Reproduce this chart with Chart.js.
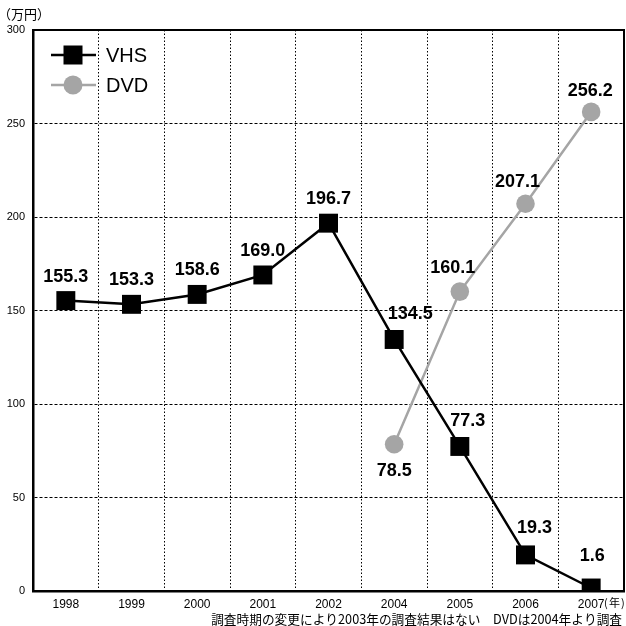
<!DOCTYPE html>
<html>
<head>
<meta charset="utf-8">
<script src="https://cdn.jsdelivr.net/npm/chart.js@4/dist/chart.umd.min.js"></script>
<style>
  html, body { margin: 0; padding: 0; background: #fff; overflow: hidden; }
  #wrap { position: relative; width: 626px; height: 626px; }
  canvas { display: block; }
</style>
</head>
<body>
<div id="wrap"><canvas id="c" width="626" height="626"></canvas></div>
<script>
// Years surveyed (no survey in 2003)
const years = ['1998', '1999', '2000', '2001', '2002', '2004', '2005', '2006', '2007'];
// Values in 万円
const vhs = [155.3, 153.3, 158.6, 169.0, 196.7, 134.5, 77.3, 19.3, 1.6];
const dvd = [null, null, null, null, null, 78.5, 160.1, 207.1, 256.2];
const yTicks = [0, 50, 100, 150, 200, 250, 300];

// Label placement relative to each point (dx, dy in px)
const vhsLabelShift = [[0, -24], [0, -24], [0, -24], [0, -24], [0, -24], [16, -25], [8, -25], [9, -27], [1, -32]];
const dvdLabelShift = [null, null, null, null, null, [0, 27], [-7, -24], [-8, -22], [-1, -21]];

const GRAY = '#a5a5a5';
const FONT = '"Liberation Sans", Arial, Helvetica, sans-serif';
const JP = '"Noto Sans CJK JP", "Liberation Sans", sans-serif';

const decorations = {
  id: 'decorations',
  afterDraw(chart) {
    const { ctx, chartArea: a } = chart;
    ctx.save();
    // top and right frame
    ctx.strokeStyle = '#000';
    ctx.lineWidth = 2;
    ctx.beginPath();
    ctx.moveTo(a.left, a.top);
    ctx.lineTo(a.right, a.top);
    ctx.lineTo(a.right, a.bottom);
    ctx.stroke();

    // value labels
    ctx.fillStyle = '#000';
    ctx.font = 'bold 18px ' + FONT;
    ctx.textAlign = 'center';
    ctx.textBaseline = 'middle';
    const drawLabels = (dsIndex, values, shifts) => {
      const meta = chart.getDatasetMeta(dsIndex);
      values.forEach((v, i) => {
        if (v === null) return;
        const p = meta.data[i];
        const s = shifts[i];
        ctx.fillText(v.toFixed(1), p.x + s[0], p.y + s[1]);
      });
    };
    drawLabels(0, vhs, vhsLabelShift);
    drawLabels(1, dvd, dvdLabelShift);

    // legend
    const lx0 = a.left + 18, lx1 = a.left + 63, mx = a.left + 40;
    const ly1 = a.top + 25, ly2 = a.top + 55;
    ctx.lineWidth = 2.5;
    ctx.strokeStyle = '#000';
    ctx.beginPath(); ctx.moveTo(lx0, ly1); ctx.lineTo(lx1, ly1); ctx.stroke();
    ctx.fillStyle = '#000';
    ctx.fillRect(mx - 9.5, ly1 - 9.5, 19, 19);
    ctx.strokeStyle = GRAY;
    ctx.beginPath(); ctx.moveTo(lx0, ly2); ctx.lineTo(lx1, ly2); ctx.stroke();
    ctx.fillStyle = GRAY;
    ctx.beginPath(); ctx.arc(mx, ly2, 9.5, 0, Math.PI * 2); ctx.fill();
    ctx.fillStyle = '#000';
    ctx.font = '20px ' + FONT;
    ctx.textAlign = 'left';
    ctx.fillText('VHS', a.left + 73, ly1 + 1);
    ctx.fillText('DVD', a.left + 73, ly2 + 1);

    // unit captions and note
    ctx.font = '13px ' + JP;
    ctx.textBaseline = 'middle';
    ctx.fillText('（万円）', -2, 14);
    ctx.font = '11px ' + JP;
    ctx.textAlign = 'left';
    ctx.fillText('(', 604, 603);
    ctx.fillText('年', 609, 603);
    ctx.fillText(')', 621, 603);
    ctx.font = '12.7px ' + JP;
    ctx.textAlign = 'right';
    ctx.fillText('調査時期の変更により2003年の調査結果はない　DVDは2004年より調査', 622, 619);
    ctx.restore();
  }
};

new Chart(document.getElementById('c'), {
  type: 'line',
  data: {
    labels: years,
    datasets: [
      {
        label: 'VHS',
        data: vhs,
        borderColor: '#000',
        backgroundColor: '#000',
        borderWidth: 2.5,
        pointStyle: 'rect',
        pointRadius: 13.4,
        pointBorderWidth: 0,
        tension: 0,
        clip: { left: 20, right: 20, top: 20, bottom: 0 }
      },
      {
        label: 'DVD',
        data: dvd,
        borderColor: GRAY,
        backgroundColor: GRAY,
        borderWidth: 2.5,
        pointStyle: 'circle',
        pointRadius: 9.3,
        pointBorderWidth: 0,
        tension: 0,
        spanGaps: false
      }
    ]
  },
  plugins: [decorations],
  options: {
    responsive: false,
    animation: false,
    events: [],
    layout: { autoPadding: false, padding: { top: 30, right: 2, left: 0, bottom: 0 } },
    plugins: { legend: { display: false }, tooltip: { enabled: false } },
    scales: {
      x: {
        offset: true,
        afterFit(scale) { scale.height = 35; },
        grid: {
          offset: true,
          color: '#000',
          lineWidth: 1,
          drawTicks: false
        },
        border: { display: true, color: '#000', width: 2.5, dash: [1.5, 2] },
        ticks: { color: '#000', font: { family: FONT, size: 12 }, padding: 6, maxRotation: 0, autoSkip: false }
      },
      y: {
        min: 0,
        max: 300,
        afterFit(scale) { scale.width = 33; },
        afterBuildTicks(scale) { scale.ticks = yTicks.map(v => ({ value: v })); },
        grid: { color: '#000', lineWidth: 1, drawTicks: false },
        border: { display: true, color: '#000', width: 2.5, dash: [3, 2] },
        ticks: { color: '#000', font: { family: FONT, size: 11 }, padding: 8 }
      }
    }
  }
});
</script>
</body>
</html>
